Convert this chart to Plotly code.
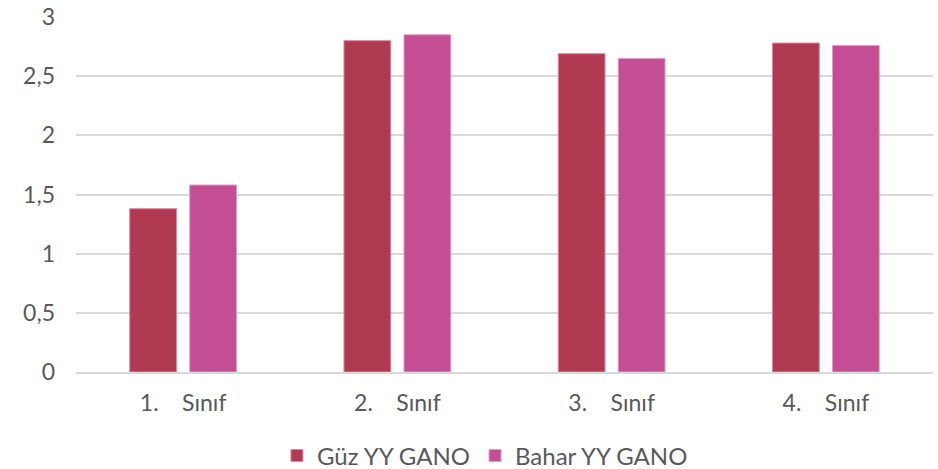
import plotly.graph_objects as go

categories = ["1.\u00a0\u00a0\u00a0\u00a0Sınıf", "2.\u00a0\u00a0\u00a0\u00a0Sınıf", "3.\u00a0\u00a0\u00a0\u00a0Sınıf", "4.\u00a0\u00a0\u00a0\u00a0Sınıf"]
guz_values = [1.38, 2.80, 2.69, 2.78]
bahar_values = [1.58, 2.85, 2.65, 2.76]
y_ticks = [0, 0.5, 1, 1.5, 2, 2.5, 3]

fig = go.Figure()
fig.add_trace(go.Bar(name="Güz YY GANO", x=categories, y=guz_values,
                     marker=dict(color="#B03A51", line=dict(color="#D98A99", width=1))))
fig.add_trace(go.Bar(name="Bahar YY GANO", x=categories, y=bahar_values,
                     marker=dict(color="#C44E94", line=dict(color="#E59CC6", width=1))))

fig.update_layout(
    width=938, height=469,
    margin=dict(l=76, r=5, t=17, b=97, autoexpand=False),
    plot_bgcolor="white", paper_bgcolor="white",
    barmode="group", bargap=0.44, bargroupgap=0.22,
    separators=",.",
    font=dict(family="Lato, Open Sans, sans-serif", size=23, color="#595959"),
    legend=dict(orientation="h", x=0.517, xanchor="center", xref="container",
                y=0.028, yanchor="middle", yref="container",
                font=dict(size=24, color="#595959"), itemwidth=30, tracegroupgap=0),
    xaxis=dict(showgrid=False, showline=True, linecolor="#D9D9D9", linewidth=1.5,
               ticks="", tickfont=dict(size=23), ticklabelstandoff=10, automargin=False),
    yaxis=dict(range=[0, 3], tickvals=y_ticks, showgrid=True, gridcolor="#D9D9D9",
               gridwidth=1.5, zeroline=False, showline=False, ticks="",
               ticklabelstandoff=20, tickfont=dict(size=23), automargin=False),
)

fig.write_html("out.html",
               config={"displayModeBar": False},
               post_script="document.body.style.margin='0';document.body.style.overflow='hidden';")
